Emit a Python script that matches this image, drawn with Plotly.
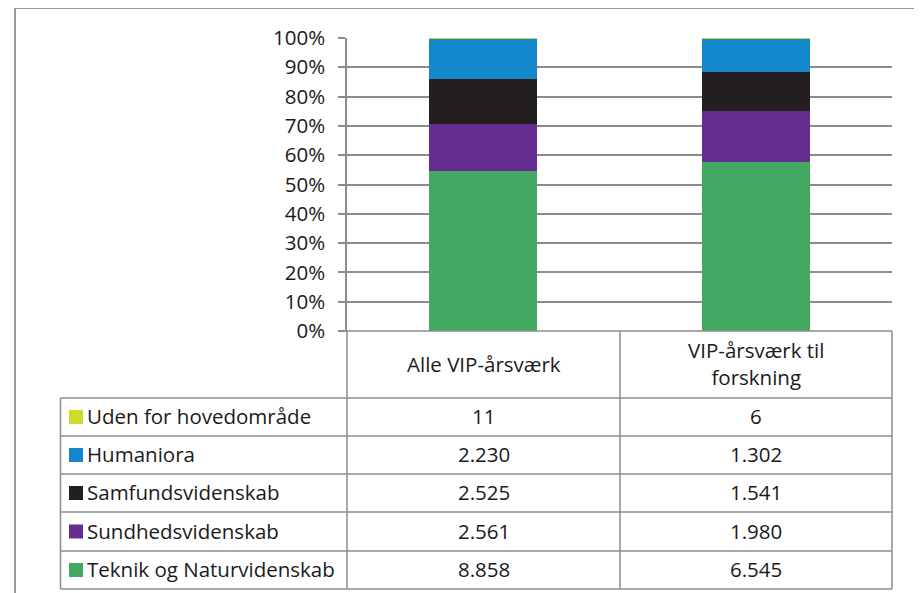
import plotly.graph_objects as go

# ---- data ----
categories = ["Alle VIP-årsværk", "VIP-årsværk til<br>forskning"]
series_names = ["Uden for hovedområde", "Humaniora", "Samfundsvidenskab",
                "Sundhedsvidenskab", "Teknik og Naturvidenskab"]
uden = [11, 6]
humaniora = [2230, 1302]
samfund = [2525, 1541]
sundhed = [2561, 1980]
teknik = [8858, 6545]
y_ticks = [0, 10, 20, 30, 40, 50, 60, 70, 80, 90, 100]

series_values = [uden, humaniora, samfund, sundhed, teknik]
colors = ["#CDDC29", "#1287CC", "#231F20", "#662D91", "#43A862"]

OFF = 8  # page body margin
W, H = 922 - OFF, 593 - OFF
L, R, T, B = 347 - OFF, 892 - OFF, 38 - OFF, 331 - OFF  # plot area in figure pixels


def px(x):
    return (x - OFF - L) / (R - L)


def py(y):
    return (B - (y - OFF)) / (B - T)


fig = go.Figure()
# stack bottom-up: Teknik first
for name, vals, col in reversed(list(zip(series_names, series_values, colors))):
    fig.add_trace(go.Bar(x=categories, y=vals, name=name, marker_color=col,
                         marker_line_width=0))

font_family = "'Open Sans', Lato, sans-serif"
fsize = 20.5
txt_col = "#1a1a1a"
grid_col = "#8c8c8c"

fig.update_layout(
    width=W, height=H,
    margin=dict(l=L, r=W - R, t=T, b=H - B),
    barmode="stack", barnorm="percent", bargap=0.604,
    showlegend=False,
    plot_bgcolor="white", paper_bgcolor="white",
    font=dict(family=font_family, size=fsize, color=txt_col),
    xaxis=dict(showticklabels=False, ticks="", showgrid=False, zeroline=False,
               showline=False),
    yaxis=dict(range=[0, 100], tickvals=y_ticks,
               ticktext=[f"{v}%" for v in y_ticks],
               showgrid=True, gridcolor=grid_col, gridwidth=1.5,
               zeroline=False, showline=True, linecolor=grid_col, linewidth=1.5,
               ticks="outside", ticklen=7, tickcolor=grid_col, tickwidth=1.5,
               ticklabelstandoff=9,
               tickfont=dict(size=fsize, family=font_family, color=txt_col)),
)

shapes = []
line = dict(color=grid_col, width=1.5)
# outer chart border
shapes.append(dict(type="rect", xref="paper", yref="paper",
                   x0=px(15), x1=px(921), y0=py(8), y1=py(610),
                   line=dict(color="#999999", width=2), layer="below"))
# table structure
tab_left, col_div = 60.5, 620
row_y = [398, 436, 474, 512, 551, 589]
shapes.append(dict(type="line", xref="paper", yref="paper", x0=px(340), x1=px(892),
                   y0=py(331), y1=py(331), line=line))
for yy in row_y:
    shapes.append(dict(type="line", xref="paper", yref="paper", x0=px(tab_left),
                       x1=px(892), y0=py(yy), y1=py(yy), line=line))
shapes.append(dict(type="line", xref="paper", yref="paper", x0=px(tab_left),
                   x1=px(tab_left), y0=py(row_y[0]), y1=py(row_y[-1]), line=line))
for xx in [347, col_div, 892]:
    shapes.append(dict(type="line", xref="paper", yref="paper", x0=px(xx),
                       x1=px(xx), y0=py(331), y1=py(row_y[-1]), line=line))

annotations = []
# header labels
col_centers = [(347 + col_div) / 2, (col_div + 892) / 2]
for cat, cx in zip(categories, col_centers):
    annotations.append(dict(text=cat, x=px(cx), y=py((331 + row_y[0]) / 2 - 1),
                            xref="paper", yref="paper", showarrow=False,
                            xanchor="center", yanchor="middle",
                            font=dict(size=fsize, family=font_family, color=txt_col)))

# rows: legend key + name + values
for i, (name, vals, col) in enumerate(zip(series_names, series_values, colors)):
    y_top, y_bot = row_y[i], row_y[i + 1]
    yc = (y_top + y_bot) / 2
    shapes.append(dict(type="rect", xref="paper", yref="paper",
                       x0=px(69), x1=px(83), y0=py(yc - 7), y1=py(yc + 7),
                       fillcolor=col, line=dict(width=0)))
    annotations.append(dict(text=name, x=px(85), y=py(yc - 1), xref="paper", yref="paper",
                            showarrow=False, xanchor="left", yanchor="middle",
                            font=dict(size=fsize, family=font_family, color=txt_col)))
    for v, cx in zip(vals, col_centers):
        annotations.append(dict(text=f"{v:,}".replace(",", "."), x=px(cx), y=py(yc - 1),
                                xref="paper", yref="paper", showarrow=False,
                                xanchor="center", yanchor="middle",
                                font=dict(size=fsize, family=font_family, color=txt_col)))

fig.update_layout(shapes=shapes, annotations=annotations)
fig.write_html("out.html")
